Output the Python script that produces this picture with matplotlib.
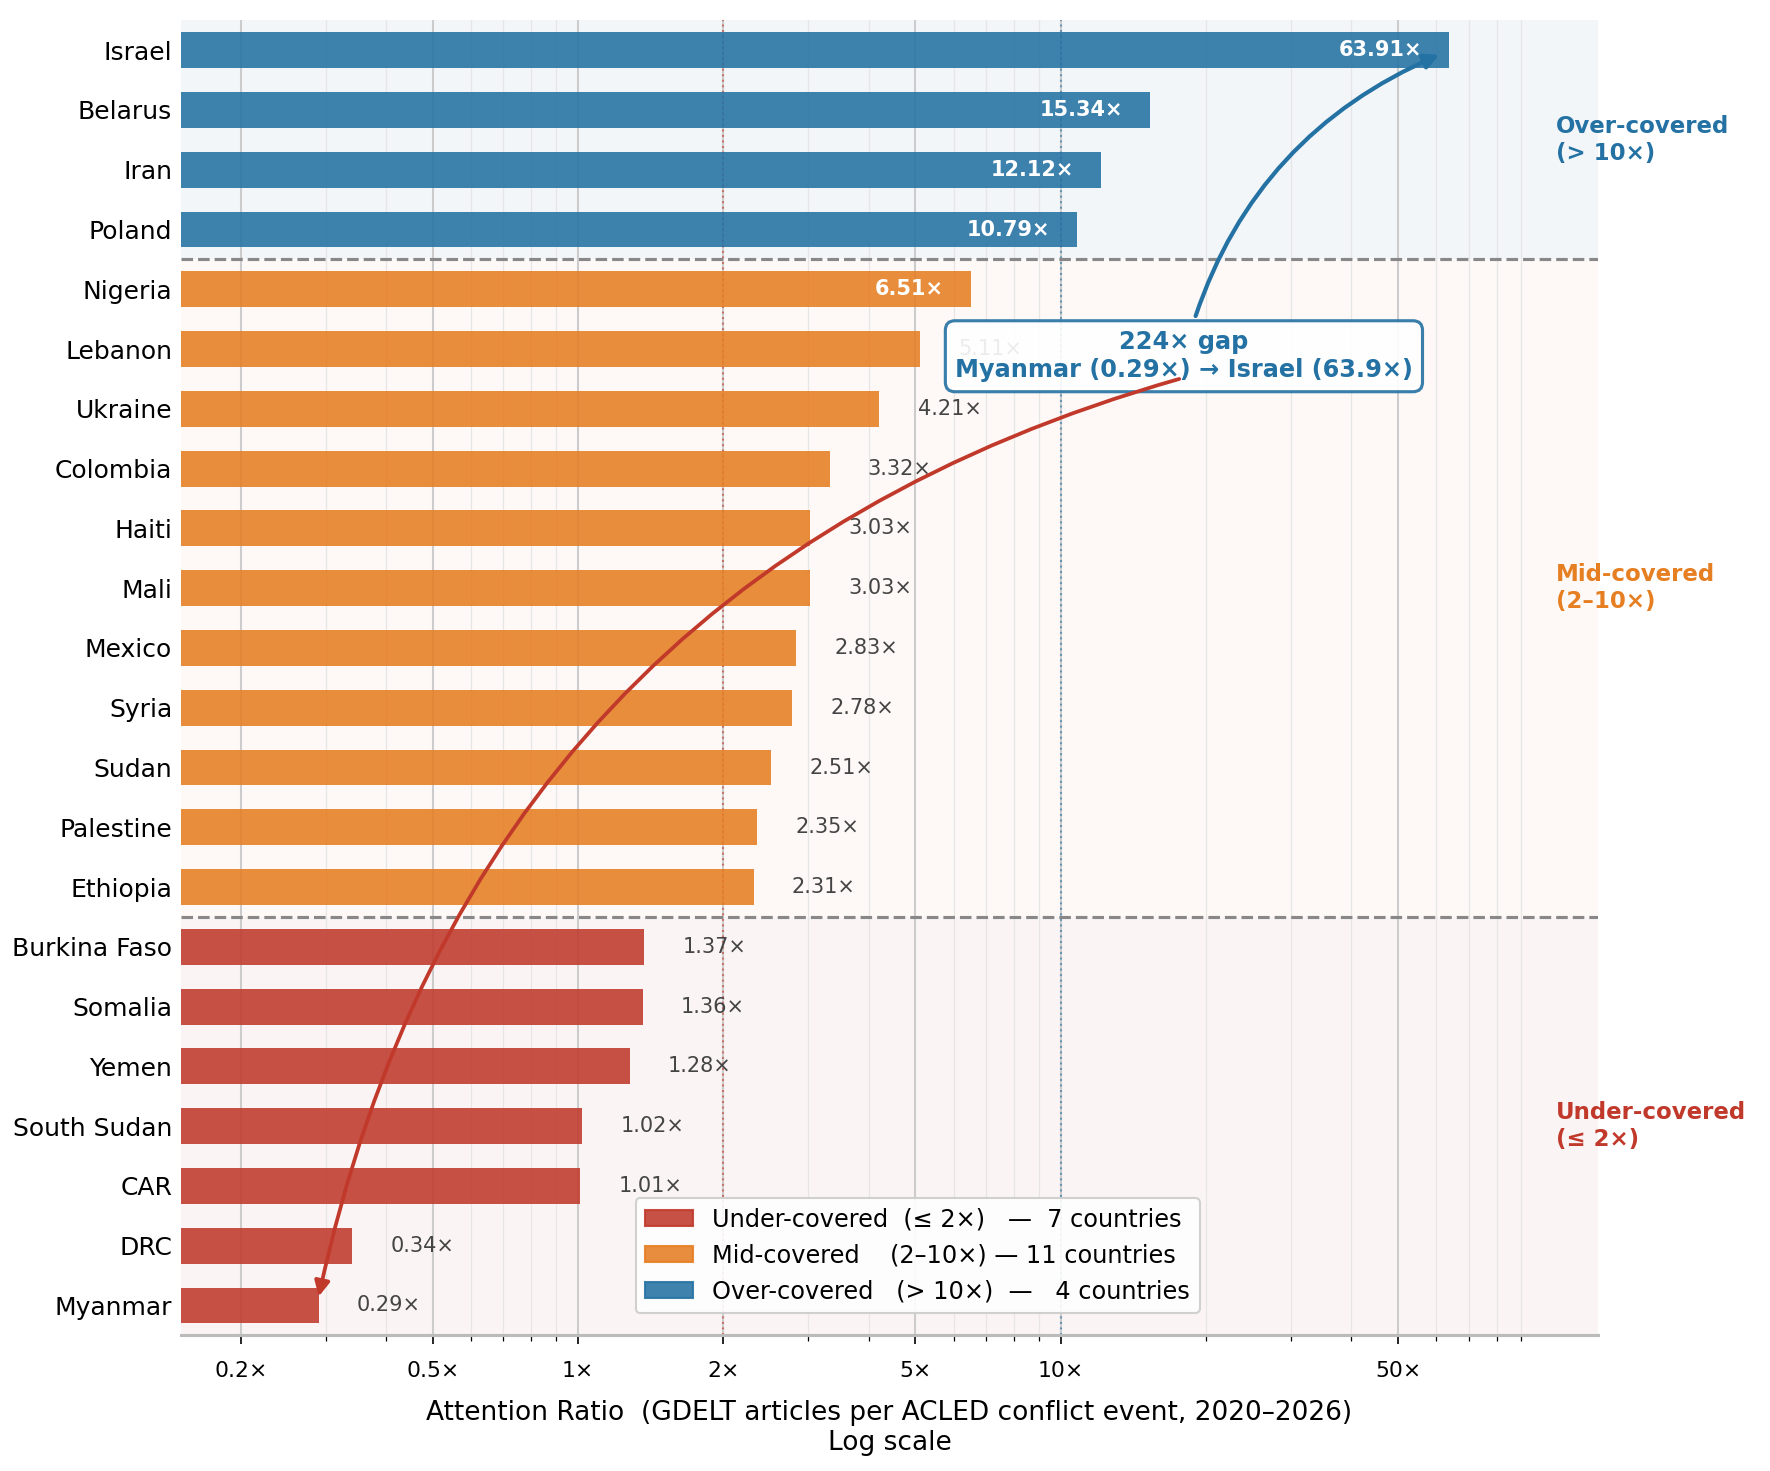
import matplotlib
matplotlib.use("Agg")
import matplotlib.pyplot as plt
from matplotlib.patches import Patch
from matplotlib.ticker import FixedLocator, LogLocator, NullFormatter

countries = [
    "Israel", "Belarus", "Iran", "Poland",
    "Nigeria", "Lebanon", "Ukraine", "Colombia", "Haiti", "Mali", "Mexico",
    "Syria", "Sudan", "Palestine", "Ethiopia",
    "Burkina Faso", "Somalia", "Yemen", "South Sudan", "CAR", "DRC", "Myanmar",
]
ratios = [
    63.91, 15.34, 12.12, 10.79,
    6.51, 5.11, 4.21, 3.32, 3.03, 3.03, 2.83, 2.78, 2.51, 2.35, 2.31,
    1.37, 1.36, 1.28, 1.02, 1.01, 0.34, 0.29,
]
xtick_vals = [0.2, 0.5, 1, 2, 5, 10, 50]
xtick_labels = ["0.2×", "0.5×", "1×", "2×", "5×", "10×", "50×"]

BLUE = "#2471a3"
ORANGE = "#e67e22"
RED = "#c0392b"


def tier_color(v):
    if v > 10:
        return BLUE
    if v > 2:
        return ORANGE
    return RED


colors = [tier_color(v) for v in ratios]
n_over = sum(v > 10 for v in ratios)
n_mid = sum(2 < v <= 10 for v in ratios)
n_under = sum(v <= 2 for v in ratios)

fig = plt.figure(figsize=(11.8, 9.8067), dpi=150)
ax = fig.add_axes([0.102, 0.0922, 0.801, 0.894])

ypos = list(range(len(countries)))

# tier backgrounds
ax.axhspan(-0.5, n_over - 0.5, color=BLUE, alpha=0.06, lw=0, zorder=0)
ax.axhspan(n_over - 0.5, n_over + n_mid - 0.5, color=ORANGE, alpha=0.04, lw=0, zorder=0)
ax.axhspan(n_over + n_mid - 0.5, len(ratios) - 0.5, color=RED, alpha=0.05, lw=0, zorder=0)

ax.barh(ypos, ratios, height=0.6, color=colors, alpha=0.88, zorder=3)

for y, v in zip(ypos, ratios):
    if v > 6:
        ax.text(v * 0.88, y, f"{v:.2f}×", ha="right", va="center",
                color="white", fontweight="bold", fontsize=10, zorder=4)
    else:
        ax.text(v * 1.2, y, f"{v:.2f}×", ha="left", va="center",
                color="#444444", fontsize=10, zorder=4)

ax.set_xscale("log")
ax.set_xlim(0.15, 130)
ax.set_ylim(len(ratios) - 0.5, -0.5)
ax.xaxis.set_major_locator(FixedLocator(xtick_vals))
ax.set_xticklabels(xtick_labels, fontsize=10.5)
ax.xaxis.set_minor_locator(LogLocator(base=10, subs=range(2, 10)))
ax.xaxis.set_minor_formatter(NullFormatter())
ax.set_yticks(ypos)
ax.set_yticklabels(countries, fontsize=12)
ax.tick_params(axis="y", length=0, pad=4)
ax.tick_params(axis="x", which="major", length=4.5, pad=8)
ax.tick_params(axis="x", which="minor", length=3)

ax.grid(axis="x", which="major", color="#cccccc", lw=1, zorder=1)
ax.grid(axis="x", which="minor", color="#e6e6e6", lw=0.6, zorder=1)
ax.set_axisbelow(True)

for s in ["top", "right", "left"]:
    ax.spines[s].set_visible(False)
ax.spines["bottom"].set_color("#bbbbbb")
ax.spines["bottom"].set_linewidth(1.5)

# thresholds
ax.axvline(2, color=RED, ls=":", lw=1, alpha=0.6, zorder=2)
ax.axvline(10, color=BLUE, ls=":", lw=1, alpha=0.6, zorder=2)
ax.axhline(n_over - 0.5, color="#888888", ls="--", lw=1.5, zorder=2)
ax.axhline(n_over + n_mid - 0.5, color="#888888", ls="--", lw=1.5, zorder=2)

# tier labels on right
trans = ax.get_yaxis_transform()
ax.text(0.97, (n_over - 1) / 2, "Over-covered\n(> 10×)", transform=trans,
        ha="left", va="center", color=BLUE, fontweight="bold", fontsize=11)
ax.text(0.97, n_over + (n_mid - 1) / 2, "Mid-covered\n(2–10×)", transform=trans,
        ha="left", va="center", color=ORANGE, fontweight="bold", fontsize=11)
ax.text(0.97, n_over + n_mid + (n_under - 1) / 2, "Under-covered\n(≤ 2×)", transform=trans,
        ha="left", va="center", color=RED, fontweight="bold", fontsize=11)

# gap annotation
ax.annotate("224× gap\nMyanmar (0.29×) → Israel (63.9×)",
            xy=(62, 0.05), xytext=(18, 5.12), ha="center", va="center",
            fontsize=11.5, fontweight="bold", color=BLUE,
            bbox=dict(boxstyle="round,pad=0.4", fc="white", ec=BLUE, lw=1.5, alpha=0.9),
            arrowprops=dict(arrowstyle="-|>", color=BLUE, lw=2,
                            connectionstyle="arc3,rad=-0.25", mutation_scale=15),
            zorder=6)
ax.annotate("", xy=(0.29, 20.85), xytext=(17.6, 5.5),
            arrowprops=dict(arrowstyle="-|>", color=RED, lw=1.8, shrinkA=0, shrinkB=0,
                            connectionstyle="arc3,rad=0.3", mutation_scale=15),
            zorder=7)

handles = [
    Patch(facecolor=RED, edgecolor=RED, alpha=0.88),
    Patch(facecolor=ORANGE, edgecolor=ORANGE, alpha=0.88),
    Patch(facecolor=BLUE, edgecolor=BLUE, alpha=0.88),
]
labels = [
    f"Under-covered  (≤ 2×)   —  {n_under} countries",
    f"Mid-covered    (2–10×) — {n_mid} countries",
    f"Over-covered   (> 10×)  —   {n_over} countries",
]
ax.legend(handles, labels, loc="lower left", bbox_to_anchor=(0.321, 0.017),
          borderaxespad=0, fontsize=11.5, framealpha=0.9, edgecolor="#cccccc")

ax.set_xlabel("Attention Ratio  (GDELT articles per ACLED conflict event, 2020–2026)\nLog scale",
              fontsize=12.7, labelpad=9)

fig.savefig("out.png", dpi=150)
